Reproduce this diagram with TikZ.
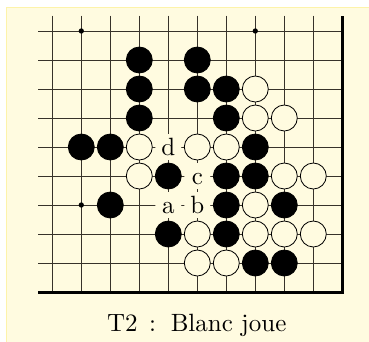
\documentclass[tikz,border=0pt]{standalone}
\definecolor{bg}{RGB}{255,251,224}
\definecolor{bgline}{RGB}{253,243,170}
\definecolor{gridc}{RGB}{55,50,42}
\begin{document}
\begin{tikzpicture}[x=29pt,y=-29pt,
  stoneb/.style={circle,fill=black,draw=black,line width=0.8pt,minimum size=26pt,inner sep=0pt},
  stonew/.style={circle,fill=bg,draw=black,line width=0.8pt,minimum size=26pt,inner sep=0pt},
  lbl/.style={circle,fill=bg,minimum size=26pt,inner sep=0pt,text height=16pt,text depth=0pt},
  hoshi/.style={circle,fill=black,minimum size=5.3pt,inner sep=0pt},
  gridline/.style={draw=gridc,line width=0.9pt},
  boardedge/.style={draw=black,line width=3pt,line join=miter},
  caption/.style={anchor=base}]
\useasboundingbox (-1.8034,-1.069) rectangle (10.9207,10.6897);
% background panel
\fill[bg] (-1.597,-0.828) rectangle (10.95,10.72);
\draw[bgline,line width=1pt] (-1.58,10.72) -- (-1.58,-0.81) -- (10.95,-0.81);
% grid
\foreach \i in {0,...,9} \draw[gridline] (\i,-0.528) -- (\i,9);
\foreach \j in {0,...,8} \draw[gridline] (-0.483,\j) -- (10,\j);
% board edges
\coordinate (bl) at (-0.483,9);
\coordinate (br) at (10,9);
\coordinate (tr) at (10,-0.528);
\draw[boardedge] (bl) -- (br) -- (tr);
% star points
\node[hoshi] (h1) at (1,0) {};
\node[hoshi] (h2) at (7,0) {};
\node[hoshi] (h3) at (1,6) {};
% black stones
\foreach \x/\y in {3/1,5/1,3/2,5/2,6/2,3/3,6/3,1/4,2/4,7/4,4/5,6/5,7/5,2/6,6/6,8/6,4/7,6/7,7/8,8/8}
  \node[stoneb] (b\x\y) at (\x,\y) {};
% white stones
\foreach \x/\y in {7/2,7/3,8/3,3/4,5/4,6/4,3/5,8/5,9/5,7/6,5/7,7/7,8/7,9/7,5/8,6/8}
  \node[stonew] (w\x\y) at (\x,\y) {};
% labels
\node[lbl] (ld) at (4,4) {\scalebox{2.5}{d}};
\node[lbl] (lc) at (5,5) {\scalebox{2.5}{c}};
\node[lbl] (la) at (4,6) {\scalebox{2.5}{a}};
\node[lbl] (lb) at (5,6) {\scalebox{2.5}{b}};
% caption
\node[caption] (cap) at (4.979,10.345) {\scalebox{2.5}{T2\hspace{4.6pt}:\hspace{5.9pt}Blanc joue}};
\end{tikzpicture}
\end{document}
